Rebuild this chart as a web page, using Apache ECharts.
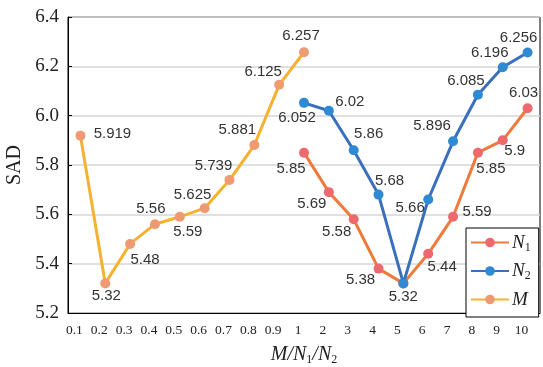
<!DOCTYPE html>
<html>
<head>
<meta charset="utf-8">
<script src="https://cdn.jsdelivr.net/npm/echarts@6/dist/echarts.min.js"></script>
<style>
  html, body { margin: 0; padding: 0; background: #fff; }
  #chart { width: 543px; height: 367px; }
</style>
</head>
<body>
<div id="chart"></div>
<script>
// datos
const categorias = ['0.1', '0.2', '0.3', '0.4', '0.5', '0.6', '0.7', '0.8', '0.9',
  '1', '2', '3', '4', '5', '6', '7', '8', '9', '10'];
const valoresM = [5.919, 5.32, 5.48, 5.56, 5.59, 5.625, 5.739, 5.881, 6.125, 6.257];
const valoresN1 = [5.85, 5.69, 5.58, 5.38, 5.32, 5.44, 5.59, 5.85, 5.9, 6.03];
const valoresN2 = [6.052, 6.02, 5.86, 5.68, 5.32, 5.66, 5.896, 6.085, 6.196, 6.256];
const etiquetasY = ['5.2', '5.4', '5.6', '5.8', '6.0', '6.2', '6.4'];

// desplazamiento de cada etiqueta respecto al punto (px)
const offM = [[32, -2], [1, 12], [15, 16], [-4, -15], [8, 15], [-12, -13], [-16, -14], [-17, -15], [-16, -13], [-3, -16]];
const offN1 = [[-13, 16], [-17, 12], [-17, 13], [-18, 11], null, [14, 13], [24, -5], [13, 16], [12, 11], [-4, -15]];
const offN2 = [[-7, 15], [21, -9], [15, -16], [11, -14], [0, 13], [-18, 8], [-21, -15], [-12, -14], [-13, -14], [-9, -15]];

const chart = echarts.init(document.getElementById('chart'));

// M ocupa 0.1..1, N1 y N2 ocupan 1..10
const inicioN = categorias.indexOf('1');

function armarDatos(valores, offsets, inicio) {
  const datos = categorias.map(() => null);
  valores.forEach((v, i) => {
    const off = offsets[i];
    datos[inicio + i] = {
      value: v,
      label: off ? { show: true, offset: off } : { show: false }
    };
  });
  return datos;
}

function serie(nombre, valores, offsets, inicio, colorLinea, colorPunto, z) {
  return {
    name: nombre,
    type: 'line',
    data: armarDatos(valores, offsets, inicio),
    symbol: 'circle',
    symbolSize: 10,
    z: z,
    lineStyle: { color: colorLinea, width: 3 },
    itemStyle: { color: colorPunto },
    label: {
      position: 'inside',
      formatter: (p) => String(p.value),
      fontFamily: 'Liberation Sans',
      fontSize: 15,
      color: '#333'
    },
    emphasis: { disabled: true }
  };
}

const richTexto = {
  i: { fontFamily: 'Liberation Serif', fontStyle: 'italic', fontSize: 19, color: '#222' },
  s: { fontFamily: 'Liberation Serif', fontSize: 12, color: '#222', verticalAlign: 'bottom', padding: [10, 0, 0, 0] }
};

const option = {
  animation: false,
  grid: {
    left: 68, right: 3, top: 17, bottom: 54,
    outerBoundsMode: 'none',
    show: true, borderColor: '#000', borderWidth: 1
  },
  legend: {
    orient: 'vertical',
    left: 466,
    top: 228,
    padding: [5, 8, 8, 4],
    itemGap: 8,
    itemWidth: 38,
    itemHeight: 12,
    borderColor: '#000',
    borderWidth: 1,
    backgroundColor: '#fff',
    data: ['N1', 'N2', 'M'],
    formatter: (n) => n === 'M' ? '{i|M}' : '{i|N}{s|' + n.slice(1) + '}',
    textStyle: { rich: richTexto, padding: [0, 0, 0, -2] }
  },
  xAxis: {
    type: 'category',
    data: categorias,
    boundaryGap: true,
    name: '{i|M/N}{s|1}{i|/N}{s|2}',
    nameLocation: 'middle',
    nameGap: 31,
    nameTextStyle: {
      rich: {
        i: { fontFamily: 'Liberation Serif', fontStyle: 'italic', fontSize: 20, color: '#222' },
        s: { fontFamily: 'Liberation Serif', fontSize: 12, color: '#222', verticalAlign: 'bottom', padding: [10, 0, 0, 0] }
      }
    },
    axisLine: { lineStyle: { color: '#000' } },
    axisTick: { inside: true, alignWithLabel: true, length: 4, lineStyle: { color: '#000' } },
    axisLabel: {
      margin: 10,
      fontFamily: 'Liberation Serif',
      fontSize: 13.5,
      color: '#222',
      padding: [0, 12, 0, 0]
    },
    splitLine: { show: false }
  },
  yAxis: {
    type: 'value',
    min: 5.2,
    max: 6.4,
    interval: 0.2,
    name: 'SAD',
    nameLocation: 'middle',
    nameGap: 40,
    nameTextStyle: { fontFamily: 'Liberation Serif', fontSize: 20, color: '#222' },
    axisLine: { show: true, lineStyle: { color: '#000' } },
    axisTick: { show: true, inside: true, length: 4, lineStyle: { color: '#000' } },
    axisLabel: {
      margin: 9,
      fontFamily: 'Liberation Serif',
      fontSize: 19,
      color: '#222',
      formatter: (v) => etiquetasY[Math.round((v - 5.2) / 0.2)]
    },
    splitLine: { show: true, lineStyle: { color: '#d6d6d6', width: 1.5 } }
  },
  series: [
    serie('N1', valoresN1, offN1, inicioN, '#EE7B3B', '#EC6A6E', 3),
    serie('N2', valoresN2, offN2, inicioN, '#3A6FBE', '#2E8AD2', 4),
    serie('M', valoresM, offM, 0, '#F6B12E', '#EE9A72', 2)
  ]
};

chart.setOption(option);
</script>
</body>
</html>
